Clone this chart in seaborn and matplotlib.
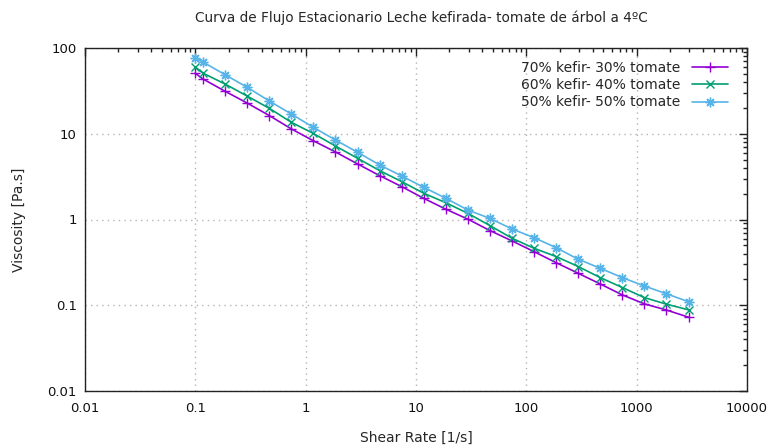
import numpy as np
import pandas as pd
import matplotlib
matplotlib.use("Agg")
import matplotlib.pyplot as plt
import seaborn as sns
from matplotlib.ticker import LogLocator, FixedLocator, NullFormatter

shear_rate = [0.1, 0.117, 0.186, 0.295, 0.468, 0.741, 1.17, 1.86, 2.95, 4.68,
              7.41, 11.7, 18.6, 29.5, 46.8, 74.1, 117, 186, 295, 468,
              741, 1170, 1860, 2950]
visc_70 = [50.7, 43.6, 31.3, 22.8, 16.3, 11.4, 8.3, 6.14, 4.45, 3.25,
           2.42, 1.77, 1.32, 1.01, 0.743, 0.563, 0.423, 0.314, 0.236, 0.177,
           0.132, 0.104, 0.088, 0.0726]
visc_60 = [60.0, 51.0, 38.0, 27.5, 19.8, 13.6, 10.1, 7.2, 5.18, 3.72,
           2.77, 2.03, 1.57, 1.18, 0.849, 0.605, 0.463, 0.37, 0.283, 0.21,
           0.161, 0.123, 0.103, 0.0884]
visc_50 = [76.4, 68.7, 48.8, 34.8, 24.1, 17.0, 11.9, 8.47, 6.08, 4.33,
           3.22, 2.38, 1.77, 1.29, 1.03, 0.776, 0.615, 0.47, 0.344, 0.27,
           0.21, 0.168, 0.136, 0.110]
labels = ["70% kefir- 30% tomate", "60% kefir- 40% tomate", "50% kefir- 50% tomate"]
title = "Curva de Flujo Estacionario Leche kefirada- tomate de árbol a 4ºC"
xlabel = "Shear Rate [1/s]"
ylabel = "Viscosity [Pa.s]"
x_ticks = [0.01, 0.1, 1, 10, 100, 1000, 10000]
x_ticklabels = ["0.01", "0.1", "1", "10", "100", "1000", "10000"]
y_ticks = [0.01, 0.1, 1, 10, 100]
y_ticklabels = ["0.01", "0.1", "1", "10", "100"]

sns.set_style("white")
plt.rcParams['font.family'] = ['DejaVu Sans']

colors = ["#9400D3", "#009E73", "#56B4E9"]
markers = ["+", "x", (8, 2, 0)]
msizes = [7, 6, 7]

fig = plt.figure(figsize=(7.72, 4.47), dpi=100)
ax = fig.add_axes([85/772, 1-391/447, (747-85)/772, (391-48)/447])

for vals, lab, c, m, ms in zip([visc_70, visc_60, visc_50], labels, colors, markers, msizes):
    df = pd.DataFrame({"x": shear_rate, "y": vals})
    sns.lineplot(data=df, x="x", y="y", ax=ax, color=c, marker=m, markersize=ms,
                 markeredgewidth=1.0, markeredgecolor=c, linewidth=1.2, label=lab)

ax.set_xscale("log")
ax.set_yscale("log")
ax.set_xlim(0.01, 10000)
ax.set_ylim(0.01, 100)
ax.xaxis.set_major_locator(FixedLocator(x_ticks))
ax.set_xticklabels(x_ticklabels)
ax.yaxis.set_major_locator(FixedLocator(y_ticks))
ax.set_yticklabels(y_ticklabels)
ax.xaxis.set_minor_locator(LogLocator(base=10, subs=[2, 3, 4, 5, 6, 7, 8, 9], numticks=20))
ax.yaxis.set_minor_locator(LogLocator(base=10, subs=[2, 3, 4, 5, 6, 7, 8, 9], numticks=20))
ax.xaxis.set_minor_formatter(NullFormatter())
ax.yaxis.set_minor_formatter(NullFormatter())

ax.tick_params(which="both", direction="in", top=True, right=True, colors="#222222",
               labelsize=9.5, labelcolor="#111111")
ax.tick_params(which="major", length=6, width=1)
ax.tick_params(which="minor", length=3, width=1)
ax.tick_params(axis="x", which="major", pad=8)
ax.tick_params(axis="y", which="major", pad=6)

ax.grid(True, which="major", linestyle=(0, (1, 3)), color="#b4b4b4", linewidth=1)
for s in ax.spines.values():
    s.set_color("#222222")
    s.set_linewidth(1)

ax.set_xlabel(xlabel, fontsize=10, labelpad=11)
ax.set_ylabel(ylabel, fontsize=10, labelpad=15)
fig.text(421/772, 1-18/447, title, ha="center", va="center", fontsize=9.8)

leg = ax.legend(loc="upper right", frameon=False, markerfirst=False, fontsize=10,
                handlelength=2.6, labelspacing=0.25, borderaxespad=0.5,
                bbox_to_anchor=(0.99, 1.0))

fig.savefig("out.png", dpi=100)
